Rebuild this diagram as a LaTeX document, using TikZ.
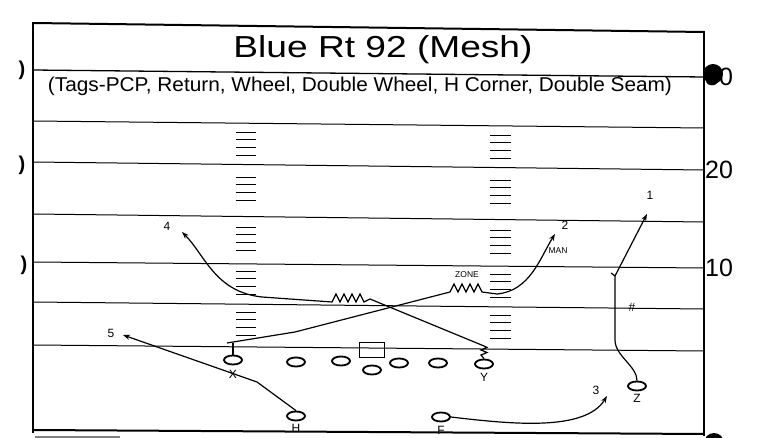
\documentclass[tikz,border=0pt]{standalone}
\usepackage{fontspec}
\setmainfont{Liberation Sans}
\usepackage{graphicx}
\usetikzlibrary{arrows.meta,shapes.geometric}
\begin{document}
\begin{tikzpicture}[x=1pt,y=-1pt,
  fieldline/.style={line width=1pt},
  border/.style={line width=2pt},
  hashmark/.style={line width=0.9pt},
  player/.style={draw,ellipse,line width=1.8pt,minimum width=18pt,minimum height=9pt,inner sep=0pt},
  route/.style={line width=1.2pt},
  arr/.style={route,-{Stealth[length=7pt,width=5pt]}},
  lbl/.style={font=\fontsize{12}{12}\selectfont,inner sep=0pt},
  tiny/.style={font=\fontsize{8.5}{9}\selectfont,inner sep=0pt},
  yard/.style={font=\fontsize{25}{25}\selectfont,inner sep=0pt,anchor=west},
  edge/.style={font=\fontsize{20}{20}\selectfont\bfseries,inner sep=0pt},
]
\useasboundingbox (0,0) rectangle (764,438);

% frame
\draw[border] (33,23) -- (704,32);
\draw[border] (33,22) -- (33,433);
\draw[border] (704,31) -- (704,436);
\draw[border] (33,430) -- (704,434);
\draw[line width=1.3pt] (33,70) -- (704,77);
\draw[line width=1.5pt,gray] (35,437) -- (120,437);

% field lines
\foreach \a/\b in {121/128,162/170,214/222,262/268,302/309,345/351}
  \draw[fieldline] (33,\a) -- (704,\b);

% hash marks
\foreach \s in {132,177,227,271,312}{
  \foreach \k in {0,1,2,3}{
    \draw[hashmark] (236,\s+7.8*\k) -- (256,\s+7.8*\k);
    \draw[hashmark] (490,\s+3+7.8*\k) -- (511,\s+3+7.8*\k);
  }
}

% titles
\node[anchor=base,inner sep=0pt] (title) at (383,58) {\resizebox{299pt}{22pt}{Blue Rt 92 (Mesh)}};
\node[anchor=base,inner sep=0pt] (sub) at (360,92) {\resizebox{624pt}{14.5pt}{(Tags-PCP, Return, Wheel, Double Wheel, H Corner, Double Seam)}};

% yard numbers and edge marks
\node[yard] (y30) at (705,77) {30};
\fill (713,74) circle (10);
\fill (714,443) circle (10);
\node[yard] (y20) at (705,170) {20};
\node[yard] (y10) at (705,268) {10};
\node[edge] (e1) at (22,70) {)};
\node[edge] (e2) at (22,165) {)};
\node[edge] (e3) at (24,265) {)};

% players
\node[player] (X) at (233,360) {};
\node[player] (G1) at (296,362) {};
\node[player] (G2) at (341,361) {};
\node[draw,line width=1.8pt,minimum width=25pt,minimum height=15pt,inner sep=0pt] (C) at (372,350) {};
\node[player] (QB) at (372,370) {};
\node[player] (G3) at (399,363) {};
\node[player] (G4) at (438,363) {};
\node[player] (Y) at (484,364) {};
\node[player] (H) at (296,416) {};
\node[player] (F) at (441,417) {};
\node[player] (Z) at (637,386) {};

% player labels
\node[lbl] (Xl) at (233,374) {X};
\node[lbl] (Yl) at (484,377) {Y};
\node[lbl] (Zl) at (637,398) {Z};
\node[lbl] (Hl) at (296,428) {H};
\node[lbl] (Fl) at (441,430) {F};

% route labels
\node[lbl] (n1) at (650,195) {1};
\node[lbl] (n2) at (565,225) {2};
\node[lbl] (n3) at (596,390) {3};
\node[lbl] (n4) at (167,226) {4};
\node[lbl] (n5) at (111,333) {5};
\node[tiny] (zone) at (467,275) {ZONE};
\node[tiny] (man) at (558,251) {MAN};
\node[lbl] (hash) at (632,307) {\#};

% coordinates
\coordinate (xt) at (233,343);
\coordinate (x0) at (227,343);
\coordinate (x1) at (295,332);
\coordinate (x2) at (497,294);
\coordinate (a2) at (555,234);
\coordinate (a4) at (182,232);
\coordinate (hb) at (257,382);
\coordinate (a5) at (123,335);
\coordinate (a3) at (607,396);
\coordinate (zt) at (615,276);
\coordinate (a1) at (647,214);

% X route (2)
\draw[route] (X.north) -- (xt);
\draw[arr] (x0) -- (x1) -- (450,292) -- (454,284) -- (458,292) -- (462,284) -- (466,292)
  -- (470,284) -- (474,292) -- (478,284) -- (482,292) -- (x2)
  .. controls (530,291) and (540,258) .. (a2);

% Y route (4)
\draw[arr] (Y.north) -- (481,355) -- (487,352.5) -- (481,350) -- (487,347.5) -- (484,346)
  -- (370,299) -- (364,302) -- (360,294) -- (356,302) -- (352,294) -- (348,302)
  -- (344,294) -- (340,302) -- (336,294) -- (332,302) -- (262,297)
  .. controls (215,292) and (205,255) .. (a4);

% H route (5)
\draw[arr] (H.north) -- (hb) -- (a5);

% F route (3)
\draw[arr] (F.east) .. controls (510,424) and (585,432) .. (a3);

% Z route (1)
\draw[arr] (Z.north) .. controls (637,366) and (615,356) .. (615,340) -- (zt) -- (a1);
\draw[route] (611,273) -- (zt);
\end{tikzpicture}
\end{document}
